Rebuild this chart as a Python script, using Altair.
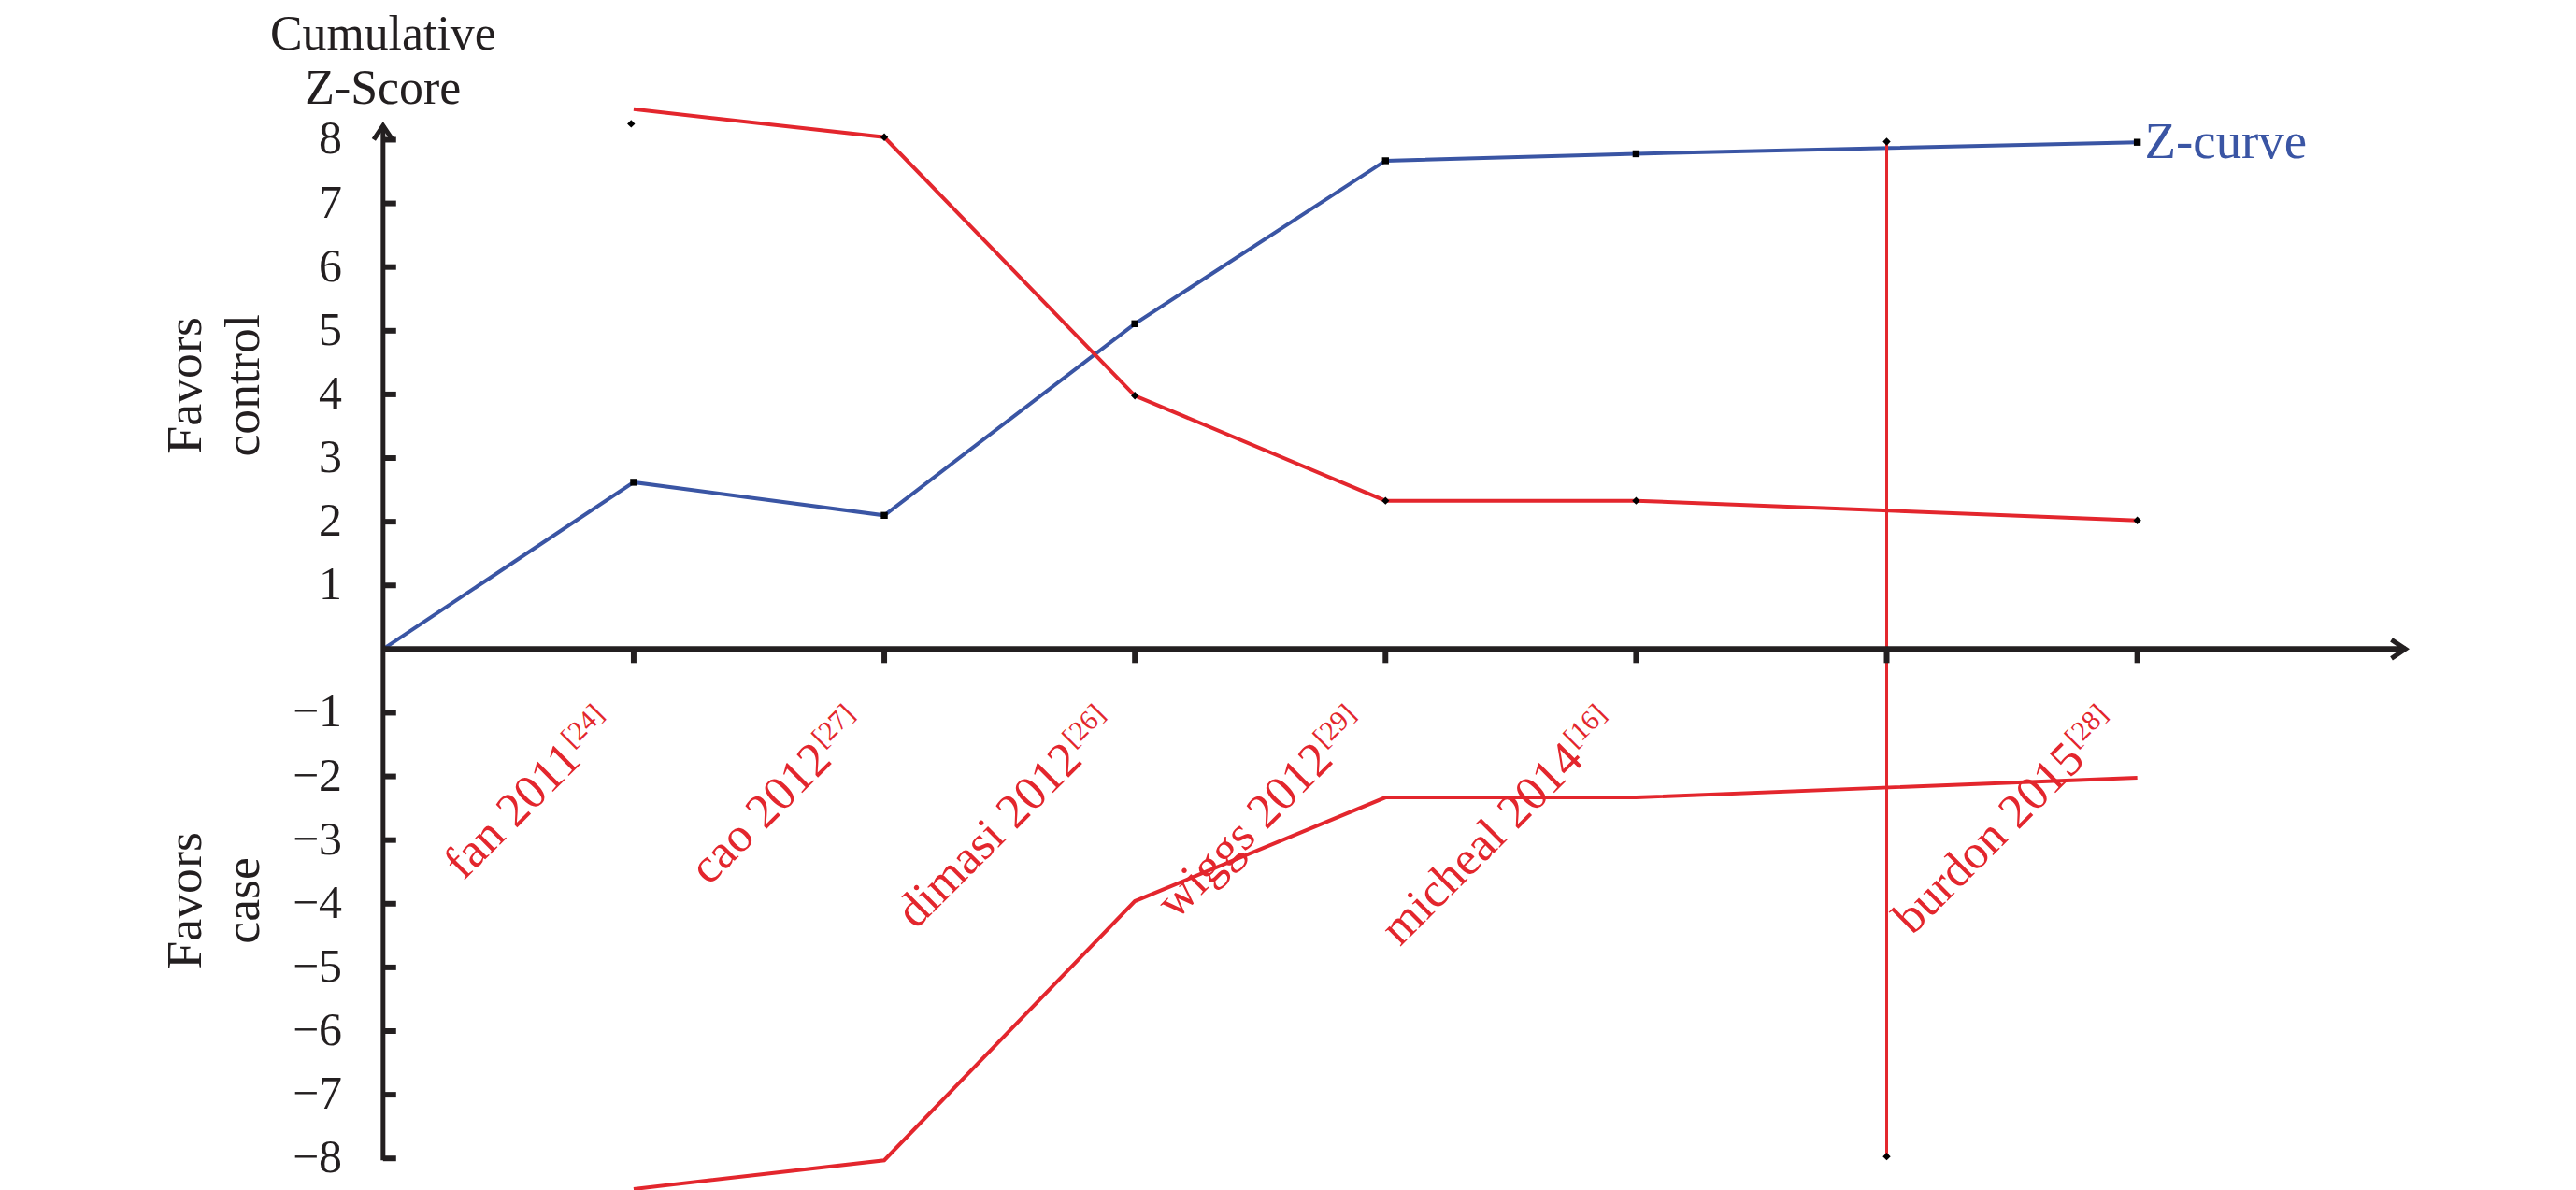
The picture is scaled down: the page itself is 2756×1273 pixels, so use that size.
import altair as alt
import pandas as pd

# ---------------- data ----------------
z_idx = [0, 1, 2, 3, 4, 5, 7]
z_curve = [0.0, 2.62, 2.10, 5.11, 7.67, 7.78, 7.96]

bound_idx = [1, 2, 3, 4, 5, 7]
upper_bound = [8.48, 8.04, 3.98, 2.33, 2.33, 2.02]
lower_bound = [-8.48, -8.03, -3.96, -2.33, -2.33, -2.02]

first_marker_idx = [0.99]
first_marker_val = [8.25]

ris_idx = [6]
ris_low = [-7.97]
ris_high = [7.97]

study_idx = [1, 2, 3, 4, 5, 7]
study_names = ["fan 2011", "cao 2012", "dimasi 2012", "wiggs 2012", "micheal 2014", "burdon 2015"]
study_refs = ["[24]", "[27]", "[26]", "[29]", "[16]", "[28]"]

side_labels = ["Favors\ncontrol", "Favors\ncase"]
side_label_y = [4.14, -3.95]

x_ticks = [1, 2, 3, 4, 5, 6, 7]
y_ticks = [-8, -7, -6, -5, -4, -3, -2, -1, 1, 2, 3, 4, 5, 6, 7, 8]
y_title = "Cumulative\nZ-Score"

# ---------------- layout / style ----------------
W, H = 2170, 1110
X_MAX = 8.07
Y_MIN, Y_MAX = -8.03, 8.22

FONT = "Liberation Serif"
INK = "#231f20"
BLUE = "#3a55a4"
RED = "#e3262d"

x_scale = alt.Scale(domain=[0, X_MAX], nice=False, zero=False)
y_scale = alt.Scale(domain=[Y_MIN, Y_MAX], nice=False, zero=False)


def X(field):
    return alt.X(field, scale=x_scale, axis=None)


def Y(field):
    return alt.Y(field, scale=y_scale, axis=None)


def X0():
    return alt.datum(0, scale=x_scale, axis=None)


def Y0():
    return alt.datum(0, scale=y_scale, axis=None)


zdf = pd.DataFrame({"i": z_idx, "z": z_curve})
bdf = pd.concat([
    pd.DataFrame({"i": bound_idx, "v": upper_bound, "b": "upper"}),
    pd.DataFrame({"i": bound_idx, "v": lower_bound, "b": "lower"}),
])
updf = pd.DataFrame({"i": bound_idx[1:], "v": upper_bound[1:]})
firstdf = pd.DataFrame({"i": first_marker_idx, "v": first_marker_val})
risdf = pd.DataFrame({"i": ris_idx, "lo": ris_low, "hi": ris_high})
risptdf = pd.DataFrame({"i": ris_idx * 2, "v": ris_low + ris_high})
sdf = pd.DataFrame({"i": study_idx, "name": study_names, "ref": study_refs})
sidedf = pd.DataFrame({"t": side_labels, "y": side_label_y})
zlab = pd.DataFrame({"i": [z_idx[-1]], "z": [z_curve[-1]], "t": ["Z-curve"]})
xtdf = pd.DataFrame({"i": x_ticks})
ytdf = pd.DataFrame({"v": y_ticks, "lab": [str(v).replace("-", "\u2212") for v in y_ticks]})
yaxdf = pd.DataFrame({"lo": [Y_MIN], "hi": [Y_MAX]})
xaxdf = pd.DataFrame({"lo": [0], "hi": [X_MAX]})
titledf = pd.DataFrame({"v": [Y_MAX], "t": [y_title]})
arrow_y = pd.DataFrame({"i": [0], "v": [Y_MAX]})
arrow_x = pd.DataFrame({"i": [X_MAX], "v": [0]})

# ---------------- axes drawn as marks ----------------
y_line = alt.Chart(yaxdf).mark_rule(color=INK, strokeWidth=5).encode(
    x=X0(), y=Y("lo:Q"), y2="hi:Q"
)
x_line = alt.Chart(xaxdf).mark_rule(color=INK, strokeWidth=6).encode(
    y=Y0(), x=X("lo:Q"), x2="hi:Q"
)
y_tick_marks = alt.Chart(ytdf).mark_rule(color=INK, strokeWidth=6, x2Offset=14).encode(
    x=X0(), x2=alt.datum(0), y=Y("v:Q")
)
x_tick_marks = alt.Chart(xtdf).mark_rule(color=INK, strokeWidth=6, y2Offset=15).encode(
    x=X("i:Q"), y=Y0(), y2=alt.datum(0)
)
y_tick_labels = alt.Chart(ytdf).mark_text(
    font=FONT, fontSize=50, color=INK, align="right", baseline="middle", dx=-44
).encode(x=X0(), y=Y("v:Q"), text="lab:N")
y_title_text = alt.Chart(titledf).mark_text(
    font=FONT, fontSize=52, color=INK, align="center", baseline="alphabetic",
    lineBreak="\n", lineHeight=58, dy=-82
).encode(x=X0(), y=Y("v:Q"), text="t:N")

chev_up = "M-0.8,1.2L0,0L0.8,1.2"
chev_right = "M-1.2,-0.8L0,0L-1.2,0.8"
arr_y = alt.Chart(arrow_y).mark_point(
    shape=chev_up, filled=False, stroke=INK, strokeWidth=5, size=625, opacity=1
).encode(x=X("i:Q"), y=Y("v:Q"))
arr_x = alt.Chart(arrow_x).mark_point(
    shape=chev_right, filled=False, stroke=INK, strokeWidth=5, size=625, opacity=1
).encode(x=X("i:Q"), y=Y("v:Q"))

# ---------------- data marks ----------------
blue = alt.Chart(zdf).mark_line(color=BLUE, strokeWidth=4).encode(x=X("i:Q"), y=Y("z:Q"))
blue_pts = alt.Chart(zdf[zdf.i > 0]).mark_point(
    shape="square", filled=True, color="black", size=55, opacity=1
).encode(x=X("i:Q"), y=Y("z:Q"))

red = alt.Chart(bdf).mark_line(color=RED, strokeWidth=4).encode(
    x=X("i:Q"), y=Y("v:Q"), detail="b:N"
)
red_pts = alt.Chart(updf).mark_point(
    shape="diamond", filled=True, color="black", size=70, opacity=1
).encode(x=X("i:Q"), y=Y("v:Q"))
first_pt = alt.Chart(firstdf).mark_point(
    shape="diamond", filled=True, color="black", size=70, opacity=1
).encode(x=X("i:Q"), y=Y("v:Q"))

ris = alt.Chart(risdf).mark_rule(color=RED, strokeWidth=3).encode(
    x=X("i:Q"), y=Y("lo:Q"), y2="hi:Q"
)
ris_pts = alt.Chart(risptdf).mark_point(
    shape="diamond", filled=True, color="black", size=70, opacity=1
).encode(x=X("i:Q"), y=Y("v:Q"))

zcurve_label = alt.Chart(zlab).mark_text(
    font=FONT, fontSize=55, color=BLUE, align="left", baseline="middle", dx=8
).encode(x=X("i:Q"), y=Y("z:Q"), text="t:N")

study_text = alt.Chart(sdf).mark_text(
    font=FONT, fontSize=52, color=RED, angle=315, align="right", baseline="alphabetic",
    dx=-124, dy=47
).encode(x=X("i:Q"), y=Y0(), text="name:N")
study_sup = alt.Chart(sdf).mark_text(
    font=FONT, fontSize=30, color=RED, angle=315, align="left", baseline="alphabetic",
    dx=-122, dy=29
).encode(x=X("i:Q"), y=Y0(), text="ref:N")

side_text = alt.Chart(sidedf).mark_text(
    font=FONT, fontSize=54, color=INK, angle=270, align="center", baseline="middle",
    lineBreak="\n", lineHeight=62, dy=-211
).encode(x=X0(), y=Y("y:Q"), text="t:N")

chart = alt.layer(
    blue, red, ris, blue_pts, red_pts, first_pt, ris_pts,
    y_line, x_line, y_tick_marks, x_tick_marks, y_tick_labels, y_title_text, arr_y, arr_x,
    zcurve_label, study_text, study_sup, side_text,
).properties(
    width=W, height=H,
    autosize=alt.AutoSizeParams(type="none"),
    padding={"left": 403, "top": 125, "right": 175, "bottom": 40},
    background="white",
).configure_view(stroke=None)

chart.save("out.html", embed_options={"renderer": "svg", "actions": False})
